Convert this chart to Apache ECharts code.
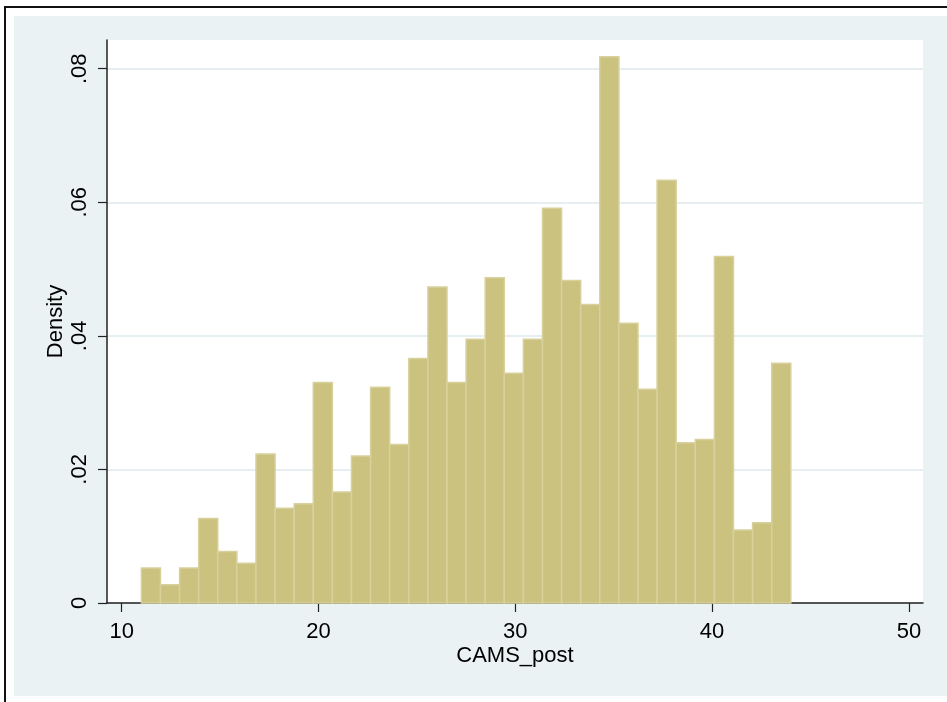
<!DOCTYPE html>
<html>
<head>
<meta charset="utf-8">
<script src="https://cdn.jsdelivr.net/npm/echarts@6/dist/echarts.min.js"></script>
<style>
  html, body { margin: 0; padding: 0; background: #fff; }
  #chart { width: 947px; height: 702px; }
</style>
</head>
<body>
<div id="chart"></div>
<script>
// Histogram of CAMS_post: 34 equal-width bins between the lowest and highest score
const binStart = 11;
const binEnd = 44;
const density = [
  0.00524, 0.00274, 0.00524, 0.01267, 0.00773, 0.00594, 0.0223, 0.01417, 0.01486, 0.0330,
  0.01661, 0.0220, 0.0323, 0.02375, 0.0366, 0.0473, 0.0330, 0.0395, 0.0487, 0.0344,
  0.0395, 0.0591, 0.0483, 0.0447, 0.0818, 0.0419, 0.0320, 0.0633, 0.0240, 0.0245,
  0.0519, 0.01092, 0.01202, 0.0359
];
const xTicks = [10, 20, 30, 40, 50];
const yTicks = [0, 0.02, 0.04, 0.06, 0.08];
const yTickLabels = ['0', '.02', '.04', '.06', '.08'];
const xTitle = 'CAMS_post';
const yTitle = 'Density';

const binWidth = (binEnd - binStart) / density.length;
const bins = density.map((d, i) => [binStart + i * binWidth, binStart + (i + 1) * binWidth, d]);

const FONT = "'Liberation Sans', Arial, sans-serif";
const chart = echarts.init(document.getElementById('chart'), null, { renderer: 'canvas' });

chart.setOption({
  animation: false,
  backgroundColor: '#EAF2F3',
  graphic: [
    { type: 'rect', shape: { x: 0, y: 0, width: 947, height: 16 }, style: { fill: '#fff' }, silent: true },
    { type: 'rect', shape: { x: 0, y: 0, width: 14, height: 702 }, style: { fill: '#fff' }, silent: true },
    { type: 'rect', shape: { x: 0, y: 696, width: 947, height: 6 }, style: { fill: '#fff' }, silent: true },
    { type: 'line', shape: { x1: 4, y1: 7, x2: 947, y2: 7 }, style: { stroke: '#111', lineWidth: 2 }, silent: true },
    { type: 'line', shape: { x1: 5, y1: 7, x2: 5, y2: 702 }, style: { stroke: '#111', lineWidth: 2 }, silent: true }
  ],
  grid: {
    left: 107, right: 24, top: 40, bottom: 99,
    show: true, backgroundColor: '#fff', borderWidth: 0
  },
  xAxis: {
    type: 'value',
    min: 9.253, max: 50.717,
    name: xTitle,
    nameLocation: 'middle',
    nameGap: 42,
    nameMoveOverlap: false,
    nameTextStyle: { fontFamily: FONT, fontSize: 22, color: '#000' },
    axisLine: { show: true, onZero: false, lineStyle: { color: '#222', width: 1.5 } },
    axisTick: { show: true, length: 9, customValues: xTicks, lineStyle: { color: '#222', width: 1.2 } },
    axisLabel: { customValues: xTicks, margin: 18, fontFamily: FONT, fontSize: 22, color: '#000' },
    splitLine: { show: false }
  },
  yAxis: {
    type: 'value',
    min: 0, max: 0.0843,
    name: yTitle,
    nameLocation: 'middle',
    nameGap: 40,
    nameMoveOverlap: false,
    nameTextStyle: { fontFamily: FONT, fontSize: 22, color: '#000' },
    axisLine: { show: true, onZero: false, lineStyle: { color: '#222', width: 1.5 } },
    axisTick: { show: true, length: 9, customValues: yTicks, lineStyle: { color: '#222', width: 1.2 } },
    axisLabel: {
      customValues: yTicks,
      rotate: 90,
      margin: 16,
      fontFamily: FONT, fontSize: 22, color: '#000',
      formatter: v => {
        const k = yTicks.findIndex(t => Math.abs(t - v) < 1e-9);
        return k >= 0 ? yTickLabels[k] : '';
      }
    },
    splitLine: { show: true, lineStyle: { color: '#E6EEF1', width: 2 } }
  },
  series: [{
    type: 'custom',
    data: bins,
    encode: { x: [0, 1], y: 2 },
    renderItem: (params, api) => {
      const p0 = api.coord([api.value(0), api.value(2)]);
      const p1 = api.coord([api.value(1), 0]);
      return {
        type: 'rect',
        shape: { x: p0[0], y: p0[1], width: p1[0] - p0[0], height: p1[1] - p0[1] },
        style: { fill: '#CAC27E', stroke: '#D8D19D', lineWidth: 1.5 }
      };
    }
  }]
});
</script>
</body>
</html>
